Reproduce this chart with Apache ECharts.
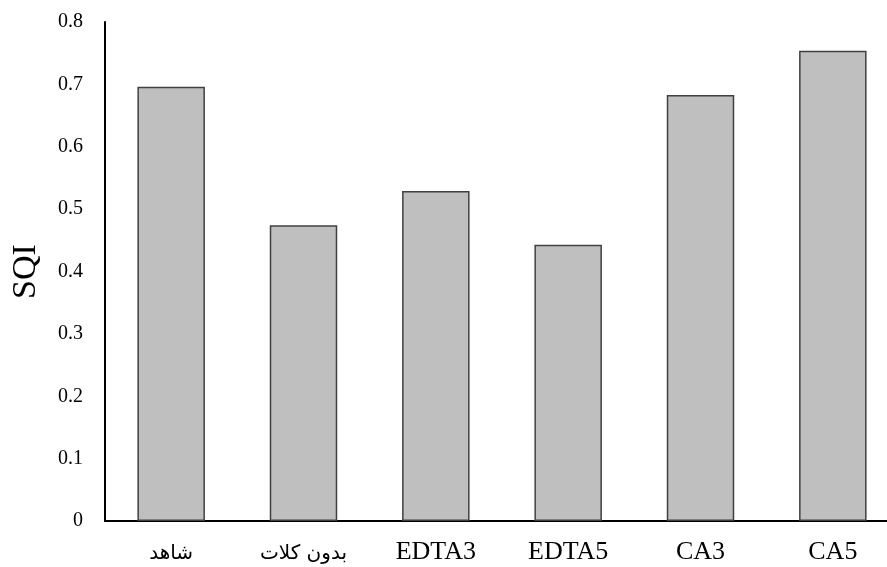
<!DOCTYPE html>
<html>
<head>
<meta charset="utf-8">
<script src="https://cdn.jsdelivr.net/npm/echarts@6/dist/echarts.min.js"></script>
<style>html,body{margin:0;padding:0;background:#fff;overflow:hidden}#c{width:899px;height:567px}</style>
</head>
<body>
<div id="c"></div>
<script>
const categories = ['شاهد', 'بدون کلات', 'EDTA3', 'EDTA5', 'CA3', 'CA5'];
const sqiValues = [0.696, 0.474, 0.529, 0.443, 0.683, 0.754];
const yTicks = [0, 0.1, 0.2, 0.3, 0.4, 0.5, 0.6, 0.7, 0.8];
const yName = 'SQI';

const chart = echarts.init(document.getElementById('c'), null, {renderer: 'canvas'});
const font = '"Liberation Serif", "DejaVu Sans", serif';
const arabicRe = /[\u0600-\u06FF]/;
chart.setOption({
  animation: false,
  backgroundColor: '#fff',
  grid: {left: 105, right: 0, top: 22, bottom: 46, containLabel: false, outerBoundsMode: 'none'},
  xAxis: {
    type: 'category',
    data: categories,
    axisLine: {lineStyle: {color: '#000', width: 2}},
    axisTick: {show: false},
    axisLabel: {
      interval: 0,
      hideOverlap: false,
      color: '#000', fontFamily: font, fontSize: 26, margin: 18,
      formatter: v => arabicRe.test(v) ? '{ar|' + v + '}' : v,
      rich: {ar: {fontFamily: '"DejaVu Sans", sans-serif', fontSize: 20, color: '#000', padding: [5, 0, 0, 0]}}
    }
  },
  yAxis: {
    type: 'value',
    min: yTicks[0],
    max: yTicks[yTicks.length - 1],
    interval: 0.1,
    name: yName,
    nameLocation: 'middle',
    nameGap: 62,
    nameRotate: 90,
    nameTextStyle: {color: '#000', fontFamily: font, fontSize: 34},
    axisLine: {show: true, lineStyle: {color: '#000', width: 2}},
    axisTick: {show: false},
    splitLine: {show: false},
    axisLabel: {color: '#000', fontFamily: font, fontSize: 20, margin: 22,
      formatter: v => String(Math.round(v * 10) / 10)}
  },
  series: [{
    type: 'bar',
    data: sqiValues,
    barCategoryGap: '49%',
    itemStyle: {color: '#bfbfbf', borderColor: '#404040', borderWidth: 1.5}
  }]
});
</script>
</body>
</html>
